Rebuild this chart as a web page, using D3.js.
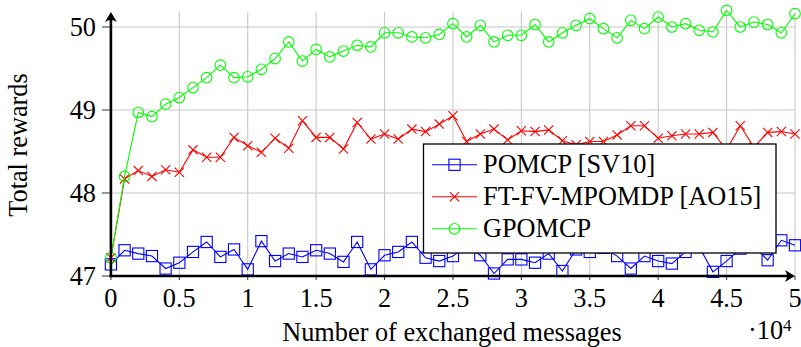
<!DOCTYPE html>
<html><head><meta charset="utf-8">
<script src="https://cdn.jsdelivr.net/npm/d3@7"></script>
<style>body{margin:0;background:#fff}svg{display:block}</style>
</head><body><svg id="c" width="801" height="347" font-family="'Liberation Serif', 'Tinos', 'Times New Roman', 'DejaVu Serif', serif"></svg>
<script>
const messages = [0,0.1,0.2,0.3,0.4,0.5,0.6,0.7,0.8,0.9,1,1.1,1.2,1.3,1.4,1.5,1.6,1.7,1.8,1.9,2,2.1,2.2,2.3,2.4,2.5,2.6,2.7,2.8,2.9,3,3.1,3.2,3.3,3.4,3.5,3.6,3.7,3.8,3.9,4,4.1,4.2,4.3,4.4,4.5,4.6,4.7,4.8,4.9,5];
const pomcp = [47.14,47.31,47.27,47.24,47.09,47.16,47.29,47.41,47.23,47.32,47.08,47.42,47.18,47.27,47.23,47.31,47.27,47.17,47.41,47.08,47.25,47.29,47.41,47.22,47.18,47.24,47.36,47.25,47.03,47.20,47.20,47.16,47.27,47.06,47.32,47.29,47.34,47.24,47.09,47.24,47.18,47.15,47.29,47.35,47.05,47.18,47.33,47.36,47.19,47.43,47.37];
const ftfv = [47.22,48.17,48.27,48.20,48.28,48.25,48.52,48.43,48.43,48.67,48.57,48.49,48.66,48.54,48.87,48.67,48.67,48.53,48.85,48.65,48.71,48.65,48.77,48.74,48.83,48.93,48.62,48.71,48.77,48.64,48.75,48.74,48.76,48.63,48.58,48.62,48.62,48.70,48.81,48.81,48.66,48.69,48.71,48.71,48.73,48.52,48.81,48.55,48.73,48.74,48.71];
const gpomcp = [47.22,48.20,48.97,48.92,49.07,49.15,49.27,49.39,49.54,49.39,49.40,49.49,49.62,49.82,49.59,49.73,49.64,49.71,49.78,49.76,49.93,49.93,49.88,49.87,49.91,50.04,49.88,50.02,49.82,49.90,49.90,50.03,49.82,49.93,50.02,50.10,49.98,49.87,50.08,49.98,50.12,50.00,50.04,49.96,49.94,50.20,50.00,50.06,50.03,49.93,50.16];
const xTicks = [0,0.5,1,1.5,2,2.5,3,3.5,4,4.5,5];
const yTicks = [47,48,49,50];
const seriesNames = ["POMCP [SV10]","FT-FV-MPOMDP [AO15]","GPOMCP"];
const seriesColors = ["#0000ff","#ff0000","#00ff00"];
const seriesMarks = ["square","cross","circle"];
const seriesData = [pomcp, ftfv, gpomcp];

const svg = d3.select("#c");
const x = d3.scaleLinear().domain([0,5]).range([110.9,795]);
const y = d3.scaleLinear().domain([47,50]).range([276,27]);
const plotTop = 12;
const FS = 26.3;

// grid
const grid = svg.append("g").attr("stroke","#c8c8c8").attr("stroke-width",1.1);
xTicks.filter(t=>t>0).forEach(t=>grid.append("line").attr("x1",x(t)).attr("x2",x(t)).attr("y1",plotTop).attr("y2",y(47)));
yTicks.filter(t=>t>47).forEach(t=>grid.append("line").attr("x1",x(0)).attr("x2",x(5)).attr("y1",y(t)).attr("y2",y(t)));

// ticks
const tk = svg.append("g").attr("stroke","#444").attr("stroke-width",1.1);
xTicks.forEach(t=>tk.append("line").attr("x1",x(t)).attr("x2",x(t)).attr("y1",y(47)).attr("y2",y(47)+4));
yTicks.forEach(t=>tk.append("line").attr("x1",x(0)-9).attr("x2",x(0)).attr("y1",y(t)).attr("y2",y(t)));

// tick labels
xTicks.forEach(t=>svg.append("text").attr("x",x(t)).attr("y",307).attr("text-anchor","middle").attr("font-size",FS).text(String(t)));
yTicks.forEach(t=>svg.append("text").attr("x",96).attr("y",y(t)+8.7).attr("text-anchor","end").attr("font-size",FS).text(t));

// series
function marker(g, type, cx, cy, color){
  if(type==="square") g.append("rect").attr("x",cx-5.6).attr("y",cy-5.6).attr("width",11.2).attr("height",11.2).attr("fill","none").attr("stroke",color).attr("stroke-width",1.1);
  else if(type==="circle") g.append("circle").attr("cx",cx).attr("cy",cy).attr("r",5.3).attr("fill","none").attr("stroke",color).attr("stroke-width",1.1);
  else { const s=4.6; g.append("path").attr("d",`M${cx-s},${cy-s}L${cx+s},${cy+s}M${cx-s},${cy+s}L${cx+s},${cy-s}`).attr("stroke",color).attr("stroke-width",1.1).attr("fill","none"); }
}
const line = d3.line().x((d,i)=>x(messages[i])).y(d=>y(d));
seriesData.forEach((data,k)=>{
  const g = svg.append("g");
  g.append("path").attr("d",line(data)).attr("fill","none").attr("stroke",seriesColors[k]).attr("stroke-width",1.1);
  data.forEach((v,i)=>marker(g, seriesMarks[k], x(messages[i]), y(v), seriesColors[k]));
});

// axes
const ax = svg.append("g").attr("stroke","#000").attr("stroke-width",2.6).attr("fill","none");
ax.append("line").attr("x1",x(0)).attr("x2",x(0)).attr("y1",y(47)+1.3).attr("y2",plotTop+3);
ax.append("line").attr("x1",x(0)-1.3).attr("x2",x(5)-3).attr("y1",y(47)).attr("y2",y(47));
svg.append("path").attr("d",`M${x(0)},${plotTop} L${x(0)-6},${plotTop+10} Q${x(0)},${plotTop+6} ${x(0)+6},${plotTop+10} Z`).attr("fill","#000");
svg.append("path").attr("d",`M${x(5)},${y(47)} L${x(5)-10},${y(47)-6} Q${x(5)-6},${y(47)} ${x(5)-10},${y(47)+6} Z`).attr("fill","#000");

// legend
const lg = svg.append("g");
lg.append("rect").attr("x",423.5).attr("y",144).attr("width",352.5).attr("height",109).attr("fill","#fff").attr("stroke","#000").attr("stroke-width",1.3);
const rowsY = [173.3,205.3,237.3];
seriesNames.forEach((n,k)=>{
  const cy = rowsY[k]-8.5;
  lg.append("line").attr("x1",432).attr("x2",477).attr("y1",cy).attr("y2",cy).attr("stroke",seriesColors[k]).attr("stroke-width",1.1);
  marker(lg, seriesMarks[k], 454.5, cy, seriesColors[k]);
  lg.append("text").attr("x",483).attr("y",rowsY[k]).attr("font-size",FS).text(n);
});

// axis labels
svg.append("text").attr("x",452).attr("y",341).attr("text-anchor","middle").attr("font-size",FS).text("Number of exchanged messages");
const ex = svg.append("text").attr("x",748).attr("y",339).attr("font-size",FS);
ex.append("tspan").text("·10");
ex.append("tspan").attr("dy",-8).attr("font-size",17).text("4");
svg.append("text").attr("transform","translate(27,145) rotate(-90)").attr("text-anchor","middle").attr("font-size",FS).text("Total rewards");
</script></body></html>
